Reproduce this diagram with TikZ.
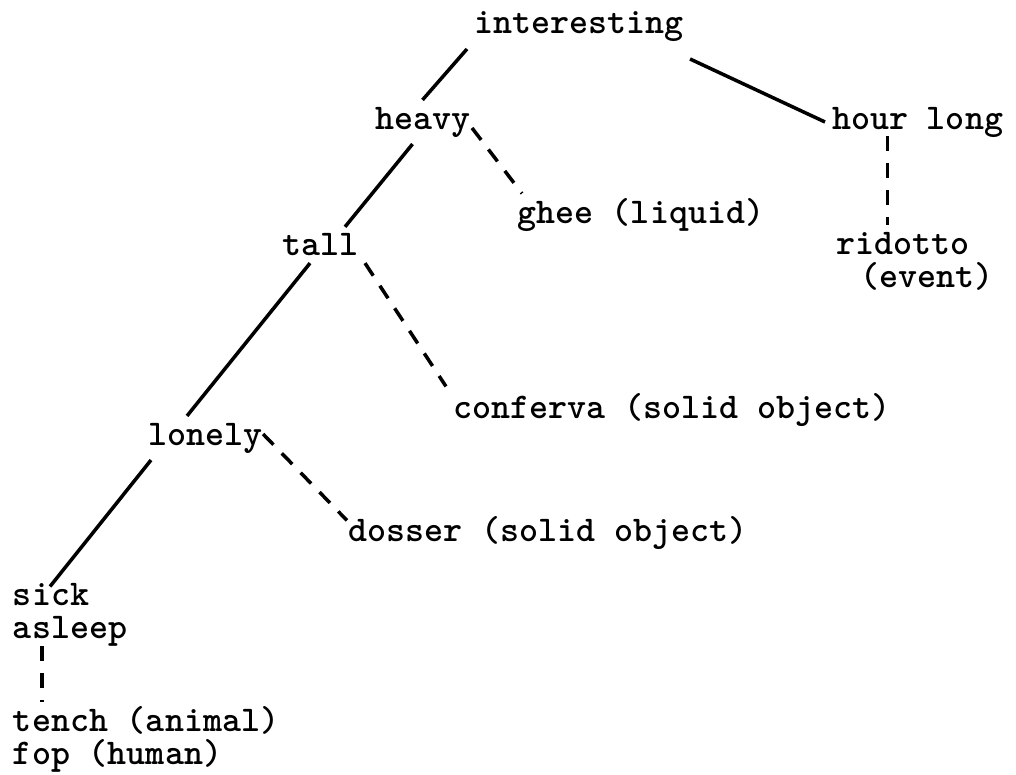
\documentclass[tikz,border=0pt]{standalone}
\usepackage{fontspec}
\usepackage{tikz}

\begin{document}
\begin{tikzpicture}[x=1mm,y=-1mm,line width=1pt]
                \tikzstyle{every node}+=[inner sep=0pt, outer sep=0.7mm, anchor=west, align=left, font=\ttfamily\bfseries\fontsize{10.3}{9.4}\selectfont]
                \tikzstyle{isa}=[dash pattern=on 1.5mm off 1.2mm]
                \useasboundingbox (0,0) rectangle (101.6,77.5);
                \node (interesting) at (46.7,2.7) {interesting};
                \node (heavy) at (36.8,12.2) {heavy};
                \node (hour) at (82.5,12.2) {hour long};
                \node (ghee) at (51.0,21.5) {ghee (liquid)};
                \node (tall) at (27.5,24.5) {tall};
                \node (ridotto) at (82.9,26.15) {ridotto\\\hspace*{2.4mm}(event)};
                \node (conferva) at (44.6,41.0) {conferva (solid object)};
                \node (lonely) at (14.1,43.8) {lonely};
                \node (dosser) at (34.1,53.3) {dosser (solid object)};
                \node (sick) at (0.6,61.5) {sick\\asleep};
                \node (tench) at (0.6,73.9) {tench (animal)\\fop (human)};
                \draw (interesting.south west) -- (heavy.north);
                \draw ([yshift=-1mm]interesting.south east) -- (hour.west);
                \draw [isa] ([xshift=-0.5mm,yshift=-0.6mm]heavy.east) -- ([xshift=1.2mm,yshift=-0.2mm]ghee.north west);
                \draw ([xshift=-1mm]heavy.south) -- ([xshift=-2mm]tall.north east);
                \draw [isa] ([xshift=-3mm,yshift=0.8mm]hour.south) -- ([xshift=-3mm]hour.south |- ridotto.north);
                \draw [isa] (tall.south east) -- (conferva.north west);
                \draw ([xshift=-1mm]tall.south) -- ([xshift=-1.8mm]lonely.north);
                \draw [isa] ([xshift=-0.6mm,yshift=0.4mm]lonely.east) -- ([xshift=0.6mm,yshift=-1.1mm]dosser.north west);
                \draw ([xshift=1mm]lonely.south west) -- ([xshift=-2mm,yshift=-1mm]sick.north);
                \draw [isa] ([xshift=3.6mm,yshift=0.7mm]sick.south west) -- ([xshift=3.6mm,yshift=-0.3mm]sick.south west |- tench.north);
              \end{tikzpicture}
\end{document}
